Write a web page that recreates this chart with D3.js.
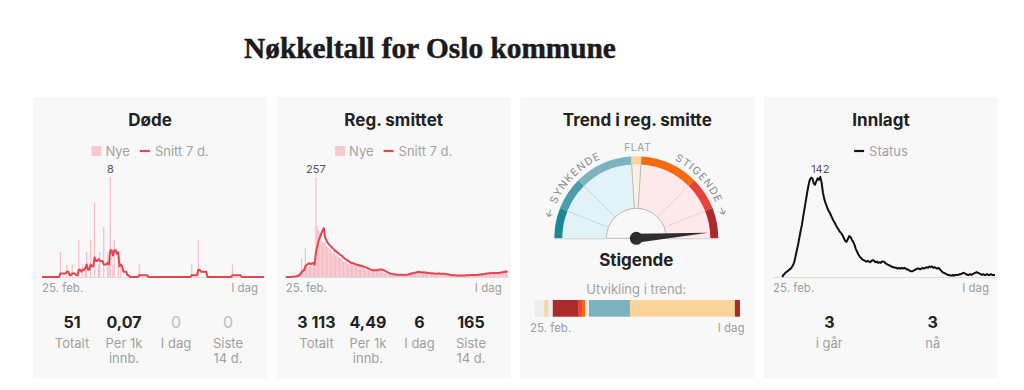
<!DOCTYPE html>
<html><head><meta charset="utf-8">
<script src="https://cdn.jsdelivr.net/npm/d3@7"></script>
<style>
html,body{margin:0;padding:0;background:#fff;}
svg{display:block;}
</style></head><body>
<svg id="c" width="1024" height="390"></svg>
<script>
// ---------------- DATA ----------------
const titleText = "Nøkkeltall for Oslo kommune";
const panelTitles = ["Døde", "Reg. smittet", "Trend i reg. smitte", "Innlagt"];
const startLabel = "25. feb.";
const endLabel = "I dag";

// daily new deaths (from 25. feb.)
const deaths = [
0,0,0,0,0,0,0,0,0,0,
0,0,0,0,2,0,0,0,0,1,
0,0,0,1,0,0,0,0,3,0,
0,1,0,1,2,0,0,3,0,0,
6,0,0,1,2,0,0,4,0,0,
2,1,8,0,1,3,0,0,2,0,
1,0,0,0,0,0,0,0,0,0,
0,0,0,0,1,0,0,0,0,0,
0,0,0,0,0,0,0,0,0,0,
0,0,0,0,0,0,0,0,0,0,
0,0,0,0,0,0,0,0,0,0,
0,0,0,0,1,0,0,0,0,3,
0,0,0,0,0,0,0,0,0,0,
0,0,0,0,0,0,0,0,0,0,
0,0,0,0,0,1,0,0,0,0,
0,0,0,0,0,0,0,0,0,0,
0,0,0,0,0,0,0,0,0,0];

// daily new registered cases
const cases = [
0,0,0,1,0,2,1,3,4,6,
10,14,48,20,22,75,30,26,28,30,
32,35,40,257,130,120,100,95,90,85,
88,80,75,70,72,65,60,68,55,58,
52,50,48,45,40,38,42,35,33,36,
32,30,34,28,29,27,30,26,25,24,
20,18,22,16,15,14,17,18,20,22,
19,21,18,15,12,10,9,8,7,9,
6,5,7,6,5,4,6,5,7,6,
5,6,7,8,10,12,14,13,11,12,
14,13,12,11,10,12,9,10,11,9,
8,10,9,8,7,9,10,8,9,8,
7,6,5,6,4,5,4,3,5,4,
4,3,5,4,3,4,5,6,4,5,
5,6,4,6,7,5,6,8,7,9,
8,10,9,11,10,12,9,10,9,11,
12,10,13,12,14,13,15,18,13,6];

// hospitalised (status per day)
const hospital = [
null,null,null,null,null,null,null,0,3,5,
7,8,10,11,13,16,20,28,37,45,
55,65,74,86,97,108,120,130,138,141,
140,133,131,136,140,138,142,134,120,111,
105,100,95,92,88,84,80,77,73,70,
67,64,62,59,55,51,50,54,58,57,
53,50,46,40,36,32,29,27,25,24,
23,22,23,22,21,23,24,23,21,22,
20,21,20,22,22,21,19,18,17,16,
15,14,14,13,13,12,13,12,13,12,
13,12,11,10,9,8,8,9,10,11,
12,12,11,12,13,12,13,14,13,15,
14,15,13,14,13,12,13,11,9,7,
6,5,4,3,3,2,2,3,2,3,
3,3,4,4,5,6,5,4,3,3,
4,3,4,5,6,7,6,5,4,3,
4,3,3,4,3,3,4,3,3,3];

const deathStats = [["51", ["Totalt"]], ["0,07", ["Per 1k", "innb."]], ["0", ["I dag"]], ["0", ["Siste", "14 d."]]];
const caseStats  = [["3 113", ["Totalt"]], ["4,49", ["Per 1k", "innb."]], ["6", ["I dag"]], ["165", ["Siste", "14 d."]]];
const hospStats  = [["3", ["i går"]], ["3", ["nå"]]];

// trend gauge: sections on a -100..100 trend scale
const trendKeys   = ["down3", "down2", "down1", "flat", "up1", "up2", "up3"];
const trendBounds = [-100, -76, -50, -4, 4, 50, 76, 100];
const trendValue  = 95;
const trendText   = "Stigende";
const trendLabels = ["← SYNKENDE", "FLAT", "STIGENDE →"];
const trendHistoryTitle = "Utvikling i trend:";
// trend history as [category, number of days]
const trendRuns = [["none",8],["flat",3],["none",4],["up3",21],["up2",3],["up1",3],["none",3],["down1",34],["flat",87],["up3",4]];

// ---------------- STYLE ----------------
const SANS = "Inter, 'Noto Sans', sans-serif";
const PANEL_BG = "#f8f8f8";
const trendColor = {none:"#ececec", down3:"#1c8895", down2:"#4c9dac", down1:"#7db3c0", flat:"#fad49b", up1:"#f56b0d", up2:"#e7433b", up3:"#ab2a2b"};

const svg = d3.select("#c");
svg.append("rect").attr("width",1024).attr("height",390).attr("fill","#fff");

// title
const title = svg.append("text").attr("x",430).attr("y",58).attr("text-anchor","middle")
  .attr("font-family","'Liberation Serif','DejaVu Serif',serif").attr("font-weight",700)
  .attr("font-size",26).attr("fill","#1b1b1b").attr("stroke","#1b1b1b").attr("stroke-width",0.5)
  .text(titleText);
const tw = title.node().getComputedTextLength();
title.attr("font-size", 26*372/tw);

const panelLeft = [33, 276.7, 520.3, 764];
const panelW = 234;
panelLeft.forEach((px,i) => {
  svg.append("rect").attr("x",px).attr("y",97).attr("width",panelW).attr("height",281).attr("fill",PANEL_BG);
  svg.append("text").attr("x",px+panelW/2).attr("y",126).attr("text-anchor","middle")
    .attr("font-family",SANS).attr("font-weight",700).attr("font-size",17).attr("fill","#222").text(panelTitles[i]);
});

function legend(px, items) {
  const g = svg.append("g");
  let cx = 0;
  items.forEach(it => {
    if (it.type === "square") {
      g.append("rect").attr("x",cx).attr("y",-5).attr("width",10).attr("height",10).attr("fill","#f8cad0");
      cx += 14;
    } else {
      g.append("line").attr("x1",cx).attr("x2",cx+10).attr("y1",0).attr("y2",0).attr("stroke",it.color).attr("stroke-width",2.2);
      cx += 15;
    }
    const t = g.append("text").attr("x",cx).attr("y",4.6).attr("font-family",SANS).attr("font-size",13).attr("fill","#a3a3a3").text(it.label);
    cx += t.node().getComputedTextLength() + 10;
  });
  cx -= 10;
  g.attr("transform",`translate(${px+panelW/2-cx/2},151)`);
}

function rolling7(arr) {
  return arr.map((d,i) => d3.sum(arr.slice(Math.max(0,i-6), i+1))/7);
}

function timeChart(px, daily, opt) {
  const x0 = px+9, x1 = px+231, yb = 277;
  const x = d3.scaleLinear().domain([0, daily.length-1]).range([x0, x1]);
  const y = d3.scaleLinear().domain([0, d3.max(daily)]).range([yb, 177]);
  const g = svg.append("g");
  g.append("line").attr("x1",x0).attr("x2",x1).attr("y1",yb+0.5).attr("y2",yb+0.5).attr("stroke","#dcdcdc");
  if (opt.bars) {
    g.selectAll(null).data(daily).join("rect")
      .attr("x",(d,i)=>x(i)-0.6).attr("width",1.2)
      .attr("y",d=>y(d)).attr("height",d=>yb-y(d)).attr("fill","#f6bcc4");
    const avg = rolling7(daily);
    g.append("path").datum(avg).attr("fill","none").attr("stroke","#e2454f").attr("stroke-width",2)
      .attr("stroke-linejoin","round")
      .attr("d", d3.line().x((d,i)=>x(i)).y(d=>y(d)));
  } else {
    g.append("path").datum(daily).attr("fill","none").attr("stroke","#111").attr("stroke-width",2)
      .attr("stroke-linejoin","round")
      .attr("d", d3.line().defined(d=>d!=null).x((d,i)=>x(i)).y(d=>y(d)));
  }
  const mi = d3.maxIndex(daily);
  g.append("text").attr("x",x(mi)).attr("y",y(daily[mi])-4).attr("text-anchor","middle")
    .attr("font-family",SANS).attr("font-size",11).attr("fill","#555").text(daily[mi]);
  g.append("text").attr("x",x0).attr("y",292).attr("font-family",SANS).attr("font-size",11.5).attr("fill","#9d9d9d").text(startLabel);
  g.append("text").attr("x",x1-6).attr("y",292).attr("text-anchor","end").attr("font-family",SANS).attr("font-size",11.5).attr("fill","#9d9d9d").text(endLabel);
}

function stats(px, list, spacing) {
  const cx = px+panelW/2;
  const n = list.length;
  list.forEach(([v, lab], i) => {
    const xx = cx + (i-(n-1)/2)*spacing;
    const zero = v === "0";
    svg.append("text").attr("x",xx).attr("y",328).attr("text-anchor","middle")
      .attr("font-family",SANS).attr("font-size",16).attr("font-weight",zero?400:700)
      .attr("fill",zero?"#bdbdbd":"#222").text(v);
    lab.forEach((l,j) => svg.append("text").attr("x",xx).attr("y",348+j*15).attr("text-anchor","middle")
      .attr("font-family",SANS).attr("font-size",13).attr("fill","#a0a0a0").text(l));
  });
}

// Panel 1 - deaths
legend(panelLeft[0], [{type:"square",label:"Nye"},{type:"line",color:"#e2454f",label:"Snitt 7 d."}]);
timeChart(panelLeft[0], deaths, {bars:true});
stats(panelLeft[0], deathStats, 52);

// Panel 2 - cases
legend(panelLeft[1], [{type:"square",label:"Nye"},{type:"line",color:"#e2454f",label:"Snitt 7 d."}]);
timeChart(panelLeft[1], cases, {bars:true});
stats(panelLeft[1], caseStats, 51.5);

// Panel 4 - hospital
legend(panelLeft[3], [{type:"line",color:"#111",label:"Status"}]);
timeChart(panelLeft[3], hospital, {bars:false});
stats(panelLeft[3], hospStats, 103.4);

// Panel 3 - gauge
(function(){
  const cx = 636.3, cy = 238.3;
  const rIn = 30, rFill = 74, rOut = 82;
  const ang = d3.scaleLinear().domain([-100,100]).range([-Math.PI/2, Math.PI/2]);
  const g = svg.append("g").attr("transform",`translate(${cx},${cy})`);
  const secs = trendKeys.map((k,i)=>({key:k, a0:trendBounds[i], a1:trendBounds[i+1]}));
  const fillCol = k => k.startsWith("down") ? "#e2f3f7" : (k==="flat" ? "#fbf1e2" : "#fde9eb");
  g.selectAll(".fill").data(secs).join("path")
    .attr("d", d => d3.arc()({innerRadius:rIn, outerRadius:rFill, startAngle:ang(d.a0), endAngle:ang(d.a1)}))
    .attr("fill", d => fillCol(d.key));
  g.selectAll(".band").data(secs).join("path")
    .attr("d", d => d3.arc()({innerRadius:rFill, outerRadius:rOut, startAngle:ang(d.a0), endAngle:ang(d.a1)}))
    .attr("fill", d => trendColor[d.key]);
  g.selectAll(".spoke").data(trendBounds.slice(1,-1)).join("line")
    .attr("x1", d => rIn*Math.sin(ang(d))).attr("y1", d => -rIn*Math.cos(ang(d)))
    .attr("x2", d => rFill*Math.sin(ang(d))).attr("y2", d => -rFill*Math.cos(ang(d)))
    .attr("stroke", d => Math.abs(d) < 10 ? "#b9b9b9" : (d<0 ? "#bcd8df" : "#f1cbd0")).attr("stroke-width",1);
  g.append("line").attr("x1",-rOut).attr("x2",rOut).attr("y1",0.5).attr("y2",0.5).attr("stroke","#cfcfcf");
  g.append("path").attr("d", d3.arc()({innerRadius:0, outerRadius:rIn, startAngle:-Math.PI/2, endAngle:Math.PI/2}))
    .attr("fill",PANEL_BG).attr("stroke","#b5b5b5").attr("stroke-width",1);
  g.append("rect").attr("x",-rIn-1).attr("y",0.5).attr("width",2*rIn+2).attr("height",3).attr("fill",PANEL_BG);
  const rT = 87;
  svg.append("defs").append("path").attr("id","arcText")
    .attr("d",`M${cx-rT},${cy} A${rT},${rT} 0 0 1 ${cx+rT},${cy}`);
  [[trendLabels[0],"22%"],[trendLabels[2],"78.5%"]].forEach(([t,off]) => {
    svg.append("text").attr("font-family",SANS).attr("font-size",10.5).attr("letter-spacing",1.1)
      .attr("fill","#8a8a8a").append("textPath").attr("href","#arcText").attr("startOffset",off)
      .attr("text-anchor","middle").text(t);
  });
  svg.append("text").attr("x",cx+1.5).attr("y",151).attr("text-anchor","middle").attr("font-family",SANS)
    .attr("font-size",10).attr("letter-spacing",0.8).attr("fill","#9a9a9a").text(trendLabels[1]);
  const a = ang(trendValue), rN = 72, hw = 4.5;
  const tip = [rN*Math.sin(a), -rN*Math.cos(a)];
  const perp = [Math.cos(a)*hw, Math.sin(a)*hw];
  g.append("path").attr("d",`M${perp[0]},${perp[1]} L${tip[0]},${tip[1]} L${-perp[0]},${-perp[1]} Z`).attr("fill","#2d2d2d");
  g.append("circle").attr("r",6.5).attr("fill","#2d2d2d");
  svg.append("text").attr("x",cx).attr("y",266).attr("text-anchor","middle").attr("font-family",SANS)
    .attr("font-weight",700).attr("font-size",17).attr("fill","#222").text(trendText);
  svg.append("text").attr("x",cx).attr("y",294).attr("text-anchor","middle").attr("font-family",SANS)
    .attr("font-size",13).attr("fill","#a3a3a3").text(trendHistoryTitle);
  const total = d3.sum(trendRuns, d=>d[1]);
  const xb = d3.scaleLinear().domain([0,total]).range([534.7, 739.7]);
  let acc = 0;
  const runs = trendRuns.map(([k,n]) => { const r = {k, s:acc, e:acc+n}; acc += n; return r; });
  svg.selectAll(".run").data(runs).join("rect")
    .attr("x",d=>xb(d.s)).attr("width",d=>xb(d.e)-xb(d.s)+0.3).attr("y",300).attr("height",16.7)
    .attr("fill",d=>trendColor[d.k]);
  svg.append("text").attr("x",530).attr("y",332).attr("font-family",SANS).attr("font-size",11.5).attr("fill","#9d9d9d").text(startLabel);
  svg.append("text").attr("x",744.6).attr("y",332).attr("text-anchor","end").attr("font-family",SANS).attr("font-size",11.5).attr("fill","#9d9d9d").text(endLabel);
})();
</script>
</body></html>
